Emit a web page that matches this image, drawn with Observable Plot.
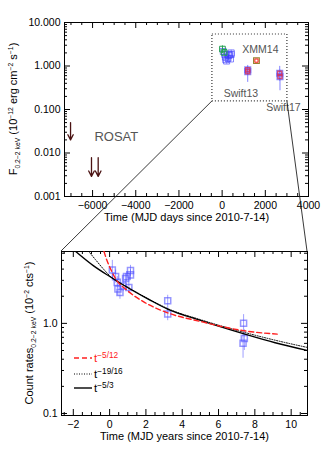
<!DOCTYPE html>
<html><head><meta charset="utf-8">
<script src="https://cdn.jsdelivr.net/npm/d3@7"></script>
<script src="https://cdn.jsdelivr.net/npm/@observablehq/plot@0.6"></script>
<style>
body{margin:0;background:#fff;}
#wrap{position:relative;width:325px;height:452px;overflow:hidden;background:#fff;font-family:"Liberation Sans",Arial,sans-serif;}
#wrap > svg{position:absolute;left:0;}
</style></head><body><div id="wrap"></div>
<script>
// ---------- Top panel data (days since 2010-7-14, flux 1e-12 erg/cm2/s) ----------
const rosatDays = [-7020, -6050, -5740];
const rosatLimit = [0.050, 0.0078, 0.0078];
const rosatTip = [0.020, 0.0029, 0.0029];

const greenDays = [15, 95];
const greenFlux = [2.45, 2.05];
const greenLo = [1.95, 1.75];
const greenHi = [2.9, 2.4];

const blueDays = [55, 120, 153, 168, 208, 274, 321, 340, 387, 420, 420];
const blueFlux = [2.15, 1.85, 1.6, 1.4, 1.3, 1.5, 1.75, 1.85, 1.45, 2.0, 1.85];
const blueLo = [1.8, 1.55, 1.35, 1.2, 1.1, 1.28, 1.5, 1.6, 1.25, 1.7, 1.6];
const blueHi = [2.5, 2.15, 1.85, 1.6, 1.5, 1.72, 2.0, 2.1, 1.65, 2.3, 2.1];

const swiftDays = [1185, 1185, 2667, 2680];
const swiftFlux = [0.82, 0.74, 0.68, 0.57];
const swiftLo = [0.6, 0.42, 0.45, 0.27];
const swiftHi = [1.03, 0.95, 0.98, 0.8];

const xmmDays = [1590];
const xmmFlux = [1.33];

const topLabels = ["ROSAT", "XMM14", "Swift13", "Swift17"];
const topLabelDays = [-4900, 1773, 870, 2838];
const topLabelFlux = [0.024, 2.39, 0.233, 0.111];
const topLabelSize = [13, 10.5, 10.5, 10.5];

const zoomBoxDays = [-450, 3023];
const zoomBoxFlux = [0.153, 5.3];

const topXTicks = [-6000, -4000, -2000, 0, 2000, 4000];
const topYTicks = [0.001, 0.01, 0.1, 1, 10];
const topYTickLabels = ["0.001", "0.010", "0.100", "1.000", "10.000"];

// ---------- Bottom panel data (years since 2010-7-14, count rate 1e-2 cts/s) ----------
const rateYears = [0.15, 0.33, 0.42, 0.46, 0.57, 0.75, 0.88, 0.93, 1.06, 1.15, 1.15, 3.2, 3.2, 7.38, 7.42, 7.35];
const rate = [3.9, 3.3, 2.85, 2.4, 2.2, 2.6, 3.15, 3.3, 2.5, 3.85, 3.45, 1.78, 1.27, 1.0, 0.68, 0.60];
const rateLo = [3.1, 2.8, 2.4, 2.0, 1.85, 2.25, 2.75, 2.9, 2.15, 3.3, 3.0, 1.5, 1.07, 0.82, 0.5, 0.41];
const rateHi = [5.0, 3.9, 3.3, 2.85, 2.6, 3.0, 3.55, 3.75, 2.9, 4.4, 3.95, 2.05, 1.5, 1.25, 0.85, 0.78];

const fitRedT = [-0.31, -0.16, 0.05, 0.33, 0.97, 1.88, 3.19, 5.0, 7.36, 9.23];
const fitRedR = [6.27, 5.07, 4.03, 3.13, 2.32, 1.73, 1.31, 1.05, 0.83, 0.76];
const fitDotT = [-1.15, -0.77, -0.38, 0.05, 1.15, 2.25, 3.19, 5.0, 7.36, 9.12, 10.9];
const fitDotR = [6.27, 5.07, 4.09, 3.31, 2.42, 1.82, 1.46, 1.10, 0.80, 0.65, 0.54];
const fitSolT = [-1.87, -0.88, 0.05, 1.15, 2.25, 3.19, 5.0, 7.36, 9.12, 10.9];
const fitSolR = [6.27, 4.34, 3.27, 2.39, 1.80, 1.44, 1.08, 0.77, 0.61, 0.50];

const botXTicks = [-2, 0, 2, 4, 6, 8, 10];
const botYTicks = [0.1, 1];
const botYTickLabels = ["0.1", "1.0"];

const legendLabels = ["−5/12", "−19/16", "−5/3"];
const legendColors = ["#ff2020", "#000", "#000"];
const legendDash = ["5,3", "1,1.5", null];

// ---------- helpers ----------
const FONT = "Liberation Sans, Arial, sans-serif";
const zip = (...arrs) => arrs[0].map((_, i) => arrs.map(a => a[i]));

function range(a, b, s) { const r = []; for (let v = a; v <= b + 1e-9; v += s) r.push(+v.toFixed(6)); return r; }
function logMinor(lo, hi) { const r = []; for (let e = Math.floor(Math.log10(lo)); e <= Math.ceil(Math.log10(hi)); e++) for (let m = 2; m <= 9; m++) { const v = m * 10 ** e; if (v >= lo && v <= hi) r.push(v); } return r; }

function frameTicks(xs, xsMinor, ys, ysMinor, fw, fh) {
  const st = {stroke: "#000", strokeWidth: 1};
  return [
    Plot.ruleX(xs, {x: d => d, insetTop: fh - 6, ...st}),
    Plot.ruleX(xs, {x: d => d, insetBottom: fh - 6, ...st}),
    Plot.ruleX(xsMinor, {x: d => d, insetTop: fh - 3, ...st}),
    Plot.ruleX(xsMinor, {x: d => d, insetBottom: fh - 3, ...st}),
    Plot.ruleY(ys, {y: d => d, insetRight: fw - 6, ...st}),
    Plot.ruleY(ys, {y: d => d, insetLeft: fw - 6, ...st}),
    Plot.ruleY(ysMinor, {y: d => d, insetRight: fw - 3, ...st}),
    Plot.ruleY(ysMinor, {y: d => d, insetLeft: fw - 3, ...st})
  ];
}

function richText(parent, x, y, parts, {rotate = 0, size = 11, anchor = "middle", fill = "#000", ratio = 0.62, sup = -4.5} = {}) {
  const t = parent.append("text")
    .attr("transform", `translate(${x},${y}) rotate(${rotate})`)
    .attr("text-anchor", anchor).attr("font-family", FONT).attr("font-size", size).attr("fill", fill);
  let cur = 0;
  for (const [s, kind] of parts) {
    const target = kind === "sub" ? 3 : kind === "sup" ? sup : 0;
    t.append("tspan").attr("dy", target - cur).attr("font-size", kind === "n" ? size : size * ratio).text(s);
    cur = target;
  }
  return t;
}

// ---------- top plot ----------
const T = {w: 325, h: 230, ml: 64, mr: 17, mt: 22, mb: 34};
const tfw = T.w - T.ml - T.mr, tfh = T.h - T.mt - T.mb;
const rosat = zip(rosatDays, rosatLimit, rosatTip).map(([d, hi, lo]) => ({d, hi, lo}));
const green = zip(greenDays, greenFlux, greenLo, greenHi).map(([d, f, lo, hi]) => ({d, f, lo, hi}));
const blue = zip(blueDays, blueFlux, blueLo, blueHi).map(([d, f, lo, hi]) => ({d, f, lo, hi}));
const swift = zip(swiftDays, swiftFlux, swiftLo, swiftHi).map(([d, f, lo, hi]) => ({d, f, lo, hi}));
const xmm = zip(xmmDays, xmmFlux).map(([d, f]) => ({d, f}));
const tlab = zip(topLabels, topLabelDays, topLabelFlux, topLabelSize).map(([s, d, f, z]) => ({s, d, f, z}));

const topPlot = Plot.plot({
  width: T.w, height: T.h, marginLeft: T.ml, marginRight: T.mr, marginTop: T.mt, marginBottom: T.mb,
  x: {domain: [-7300, 4000]},
  y: {type: "log", domain: [0.001, 10]},
  style: {fontFamily: FONT, fontSize: "10.5px", color: "#000", background: "white"},
  marks: [
    Plot.frame({stroke: "#000", strokeWidth: 1}),
    ...frameTicks(topXTicks, range(-7000, 4000, 500).filter(v => v % 2000 !== 0), topYTicks, logMinor(0.001, 10), tfw, tfh),
    Plot.axisX(topXTicks, {anchor: "bottom", tickSize: 0, tickPadding: 5, label: null, tickFormat: d => String(d).replace("-", "−")}),
    Plot.axisY(topYTicks, {anchor: "left", tickSize: 0, tickPadding: 4, label: null, tickFormat: d => topYTickLabels[topYTicks.indexOf(d)]}),
    Plot.rect([0], {x1: zoomBoxDays[0], x2: zoomBoxDays[1], y1: zoomBoxFlux[0], y2: zoomBoxFlux[1], fill: "none", stroke: "#333", strokeWidth: 1.2, strokeDasharray: "1,2"}),
    Plot.arrow(rosat, {x1: "d", x2: "d", y1: "hi", y2: "lo", stroke: "#4a1212", strokeWidth: 1.3, headLength: 7, headAngle: 55}),
    Plot.ruleX(blue, {x: "d", y1: "lo", y2: "hi", stroke: "#4040ff", strokeOpacity: 0.5}),
    Plot.dot(blue, {x: "d", y: "f", symbol: "square", r: 3.4, stroke: "#3a3aff", strokeOpacity: 0.6, strokeWidth: 1}),
    Plot.ruleX(green, {x: "d", y1: "lo", y2: "hi", stroke: "#22a050"}),
    Plot.dot(green, {x: "d", y: "f", symbol: "square", r: 3.2, stroke: "#22a050", strokeWidth: 1}),
    Plot.ruleX(swift, {x: "d", y1: "lo", y2: "hi", stroke: "#5050ff", strokeOpacity: 0.7}),
    Plot.dot(swift, {x: "d", y: "f", symbol: "square", r: 3.2, stroke: "#6060ff", strokeOpacity: 0.7}),
    Plot.dot(swift, {x: "d", y: "f", symbol: "square", r: 2.2, stroke: "#d03060", strokeOpacity: 0.8}),
    Plot.dot(xmm, {x: "d", y: "f", symbol: "square", r: 3.2, stroke: "#9a8030", strokeWidth: 1.2}),
    Plot.dot(xmm, {x: "d", y: "f", symbol: "square", r: 1.8, stroke: "#ff2020", strokeWidth: 1}),
    Plot.text(tlab, {x: "d", y: "f", text: "s", fontSize: "z", fill: "#555", textAnchor: "middle"}),
    Plot.text(["Time (MJD days since 2010-7-14)"], {frameAnchor: "bottom", dy: 24, fontSize: 11})
  ]
});

// ---------- bottom plot ----------
const B = {w: 325, h: 222, ml: 61, mr: 18, mt: 21, mb: 37, top: 230};
const bfw = B.w - B.ml - B.mr, bfh = B.h - B.mt - B.mb;
const pts = zip(rateYears, rate, rateLo, rateHi).map(([t, r, lo, hi]) => ({t, r, lo, hi}));
const red = zip(fitRedT, fitRedR).map(([t, r]) => ({t, r}));
const dot = zip(fitDotT, fitDotR).map(([t, r]) => ({t, r}));
const sol = zip(fitSolT, fitSolR).map(([t, r]) => ({t, r}));
const botXDomain = [-2.65, 10.9], botYDomain = [0.095, 6.27];

const botPlot = Plot.plot({
  width: B.w, height: B.h, marginLeft: B.ml, marginRight: B.mr, marginTop: B.mt, marginBottom: B.mb,
  x: {domain: botXDomain},
  y: {type: "log", domain: botYDomain},
  style: {fontFamily: FONT, fontSize: "10.5px", color: "#000", background: "white"},
  marks: [
    Plot.frame({stroke: "#000", strokeWidth: 1}),
    ...frameTicks(botXTicks, range(-2.5, 10.5, 0.5).filter(v => v % 2 !== 0), botYTicks, logMinor(0.095, 6.27), bfw, bfh),
    Plot.axisX(botXTicks, {anchor: "bottom", tickSize: 0, tickPadding: 5, label: null, tickFormat: d => String(d).replace("-", "−")}),
    Plot.axisY(botYTicks, {anchor: "left", tickSize: 0, tickPadding: 4, label: null, tickFormat: d => botYTickLabels[botYTicks.indexOf(d)]}),
    Plot.ruleX(pts, {x: "t", y1: "lo", y2: "hi", stroke: "#5050ff", strokeOpacity: 0.55}),
    Plot.dot(pts, {x: "t", y: "r", symbol: "square", r: 3.4, stroke: "#5050ff", strokeOpacity: 0.6}),
    Plot.line(dot, {x: "t", y: "r", stroke: "#000", strokeWidth: 1, strokeDasharray: "1,1.5", curve: "monotone-x", clip: true}),
    Plot.line(sol, {x: "t", y: "r", stroke: "#000", strokeWidth: 1.4, curve: "monotone-x", clip: true}),
    Plot.line(red, {x: "t", y: "r", stroke: "#ff2020", strokeWidth: 1.4, strokeDasharray: "5,3", curve: "monotone-x", clip: true}),
    Plot.text(["Time (MJD years since 2010-7-14)"], {frameAnchor: "bottom", dy: 24, fontSize: 11})
  ]
});

const wrap = d3.select("#wrap");
wrap.node().appendChild(topPlot);
wrap.node().appendChild(botPlot);
topPlot.style.top = "0px";
botPlot.style.top = B.top + "px";

// rich axis titles
richText(d3.select(topPlot), 17, T.mt + tfh / 2, [["F", "n"], ["0.2−2 keV", "sub"], [" (10", "n"], ["−12", "sup"], [" erg cm", "n"], ["−2", "sup"], [" s", "n"], ["−1", "sup"], [")", "n"]], {rotate: -90, size: 11});
richText(d3.select(botPlot), 33, B.mt + bfh / 2, [["Count rates", "n"], ["0.2−2 keV", "sub"], [" (10", "n"], ["−2", "sup"], [" cts", "n"], ["−1", "sup"], [")", "n"]], {rotate: -90, size: 11});

// legend inside bottom panel
const bsvg = d3.select(botPlot);
const legY = [128, 144, 158];
legendLabels.forEach((lab, i) => {
  const ln = bsvg.append("line").attr("x1", 74).attr("x2", 92).attr("y1", legY[i]).attr("y2", legY[i])
    .attr("stroke", legendColors[i]).attr("stroke-width", i === 1 ? 1 : 1.4);
  if (legendDash[i]) ln.attr("stroke-dasharray", legendDash[i]);
  richText(bsvg, 94, legY[i] + 4, [["t", "n"], [lab, "sup"]], {anchor: "start", size: 11.5, fill: legendColors[i], ratio: 0.72, sup: -4});
});

// connecting lines (zoom box -> lower panel)
const tx = topPlot.scale("x").apply, ty = topPlot.scale("y").apply;
const bx = botPlot.scale("x").apply, by = botPlot.scale("y").apply;
const ov = wrap.append("svg").attr("width", 325).attr("height", 452).style("top", "0px").style("pointer-events", "none");
const bTop = B.top + by(botYDomain[1]);
[[zoomBoxDays[0], botXDomain[0]], [zoomBoxDays[1], botXDomain[1]]].forEach(([d, t]) => {
  ov.append("line").attr("x1", tx(d)).attr("y1", ty(zoomBoxFlux[0])).attr("x2", bx(t)).attr("y2", bTop)
    .attr("stroke", "#222").attr("stroke-width", 0.9);
});
</script></body></html>
